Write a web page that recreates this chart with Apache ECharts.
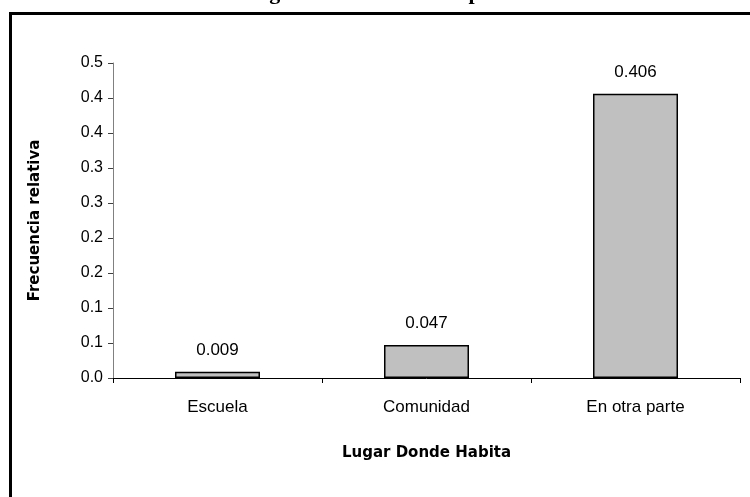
<!DOCTYPE html>
<html>
<head>
<meta charset="utf-8">
<script src="https://cdn.jsdelivr.net/npm/echarts@6/dist/echarts.min.js"></script>
<style>html,body{margin:0;padding:0;background:#fff;}#chart{width:750px;height:497px;}</style>
</head>
<body>
<div id="chart"></div>
<script>
const titleText = 'Lugar donde habita del profesor';
const categories = ['Escuela', 'Comunidad', 'En otra parte'];
const values = [0.009, 0.047, 0.406];
const valueLabels = ['0.009', '0.047', '0.406'];
const yTickLabels = ['0.0', '0.1', '0.1', '0.2', '0.2', '0.3', '0.3', '0.4', '0.4', '0.5'];
const yStep = 0.05;
const xAxisName = 'Lugar Donde Habita';
const yAxisName = 'Frecuencia relativa';

const chart = echarts.init(document.getElementById('chart'), null, {renderer: 'canvas'});
chart.setOption({
  backgroundColor: '#fff',
  animation: false,
  title: {
    text: titleText,
    left: 390, top: -23,
    textAlign: 'center',
    textStyle: {fontFamily: 'Liberation Serif', fontWeight: 'bold', fontSize: 22, color: '#000'}
  },
  graphic: [{
    type: 'rect', silent: true,
    shape: {x: 10.5, y: 13.5, width: 900, height: 600},
    style: {fill: 'none', stroke: '#000', lineWidth: 3}
  }],
  grid: {left: 113, right: 10, top: 63, bottom: 119, containLabel: false},
  xAxis: {
    type: 'category',
    data: categories,
    name: xAxisName,
    nameLocation: 'middle',
    nameGap: 68,
    nameTextStyle: {fontFamily: 'DejaVu Sans', fontWeight: 'bold', fontSize: 15, color: '#000'},
    axisLine: {lineStyle: {color: '#000', width: 1}},
    axisTick: {show: true, length: 5, inside: false, lineStyle: {color: '#000'}},
    axisLabel: {fontFamily: 'Liberation Sans', fontSize: 17, color: '#000', margin: 21}
  },
  yAxis: {
    type: 'value',
    min: 0, max: 0.45, interval: yStep,
    name: yAxisName,
    nameLocation: 'middle',
    nameGap: 70,
    nameTextStyle: {fontFamily: 'DejaVu Sans', fontWeight: 'bold', fontSize: 15, color: '#000'},
    axisLine: {show: true, lineStyle: {color: '#808080', width: 1}},
    axisTick: {show: true, length: 5, inside: false, lineStyle: {color: '#404040'}},
    splitLine: {show: false},
    axisLabel: {
      fontFamily: 'Liberation Sans', fontSize: 16, color: '#000', margin: 10,
      formatter: function (v) { return yTickLabels[Math.round(v / yStep)]; }
    }
  },
  series: [{
    type: 'bar',
    data: values,
    barWidth: 85,
    itemStyle: {color: '#C0C0C0', borderColor: '#000', borderWidth: 1.5},
    label: {
      show: true, position: 'top', distance: 13,
      fontFamily: 'Liberation Sans', fontSize: 17, color: '#000',
      formatter: function (p) { return valueLabels[p.dataIndex]; }
    }
  }]
});
</script>
</body>
</html>
